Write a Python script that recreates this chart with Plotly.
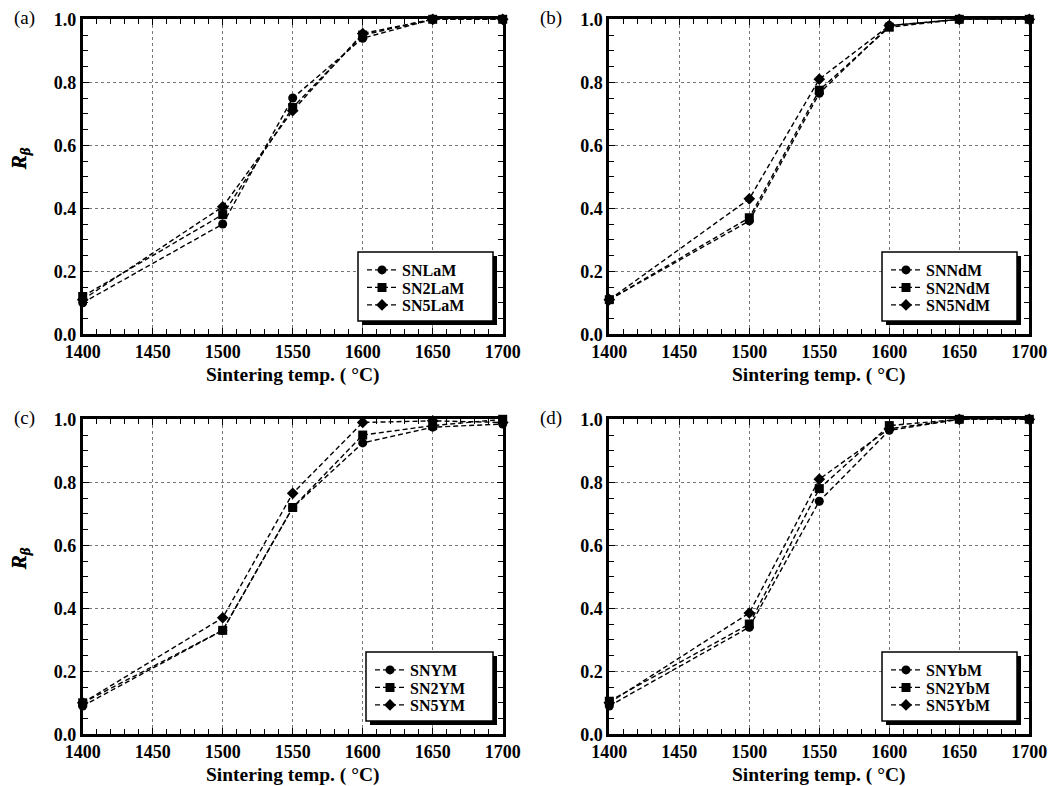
import plotly.graph_objects as go

# Sintering temperatures (°C)
temps = [1400, 1500, 1550, 1600, 1650, 1700]

# Panel (a): La-doped
SNLaM = [0.10, 0.35, 0.75, 0.94, 1.0, 1.0]
SN2LaM = [0.12, 0.38, 0.72, 0.95, 1.0, 1.0]
SN5LaM = [0.11, 0.405, 0.71, 0.955, 1.0, 1.0]

# Panel (b): Nd-doped
SNNdM = [0.11, 0.36, 0.765, 0.98, 1.0, 1.0]
SN2NdM = [0.11, 0.37, 0.775, 0.975, 1.0, 1.0]
SN5NdM = [0.11, 0.43, 0.81, 0.98, 1.0, 1.0]

# Panel (c): Y-doped
SNYM = [0.09, 0.33, 0.72, 0.925, 0.975, 0.985]
SN2YM = [0.10, 0.33, 0.72, 0.95, 0.98, 1.0]
SN5YM = [0.10, 0.37, 0.765, 0.99, 0.995, 0.99]

# Panel (d): Yb-doped
SNYbM = [0.09, 0.34, 0.74, 0.965, 1.0, 1.0]
SN2YbM = [0.105, 0.35, 0.78, 0.98, 1.0, 1.0]
SN5YbM = [0.10, 0.385, 0.81, 0.97, 1.0, 1.0]

panels = [
    ("(a)", [("SNLaM", SNLaM), ("SN2LaM", SN2LaM), ("SN5LaM", SN5LaM)]),
    ("(b)", [("SNNdM", SNNdM), ("SN2NdM", SN2NdM), ("SN5NdM", SN5NdM)]),
    ("(c)", [("SNYM", SNYM), ("SN2YM", SN2YM), ("SN5YM", SN5YM)]),
    ("(d)", [("SNYbM", SNYbM), ("SN2YbM", SN2YbM), ("SN5YbM", SN5YbM)]),
]

W, H = 1048, 786
symbols = ["circle", "square", "diamond"]

# plot-area boxes in pixels: (left, right, top, bottom)
boxes = [
    (82.7, 502.7, 19.3, 334.3),
    (609.3, 1029.3, 19.3, 334.3),
    (82.7, 502.7, 419.3, 734.3),
    (609.3, 1029.3, 419.3, 734.3),
]
# legend frames in pixels: (left, top, right, bottom)
leg_boxes = [
    (358, 252, 493, 321),
    (882, 252, 1017, 321),
    (366, 652, 493, 721),
    (882, 652, 1017, 721),
]
row_offsets = [18, 35.5, 53]

def px_x(v):
    return v / W

def px_y(v):
    return 1 - v / H

serif = "Liberation Serif"
fig = go.Figure()
layout = dict(
    width=W, height=H,
    margin=dict(l=0, r=0, t=0, b=0, autoexpand=False),
    paper_bgcolor="white", plot_bgcolor="white",
    showlegend=True,
)
shapes = []
annotations = []
leg_count = 0

for i, (label, series) in enumerate(panels):
    n = "" if i == 0 else str(i + 1)
    xa, ya = "x" + n, "y" + n
    ll, lt, lr, lb = leg_boxes[i]
    for k, ((name, vals), sym) in enumerate(zip(series, symbols)):
        leg_count += 1
        leg = "legend" if leg_count == 1 else "legend" + str(leg_count)
        fig.add_trace(go.Scatter(
            x=temps, y=vals, name=name, mode="lines+markers",
            xaxis=xa, yaxis=ya, legend=leg, cliponaxis=False,
            line=dict(color="black", width=1.4, dash="5px,3px"),
            marker=dict(symbol=sym, size=9, color="black"),
        ))
        # one legend row per series, stacked inside the framed box
        layout[leg] = dict(
            x=px_x(ll + 4), y=px_y(lt + row_offsets[k]),
            xanchor="left", yanchor="middle",
            bgcolor="rgba(0,0,0,0)", borderwidth=0,
            font=dict(family=serif, size=16, color="black", weight="bold"),
            itemwidth=30,
        )
    l, r, t, b = boxes[i]
    axis_common = dict(
        showline=True, linecolor="black", linewidth=2.8, mirror="allticks",
        ticks="inside", ticklen=6, tickwidth=1.2, tickcolor="black",
        showgrid=True, gridcolor="#777", griddash="dot", gridwidth=1,
        zeroline=False, automargin=False, ticklabeloverflow="allow",
        tickfont=dict(family=serif, size=18, color="black", weight="bold"),
    )
    layout["xaxis" + n] = dict(
        axis_common, domain=[px_x(l), px_x(r)], anchor=ya,
        range=[1400, 1700], dtick=50, tick0=1400, ticklabelstandoff=-1,
        minor=dict(dtick=10, ticklen=5, ticks="inside", tickcolor="black", showgrid=False),
    )
    layout["yaxis" + n] = dict(
        axis_common, domain=[px_y(b), px_y(t)], anchor=xa,
        range=[0, 1], dtick=0.2, tick0=0, tickformat=".1f",
        minor=dict(dtick=0.05, ticklen=5, ticks="inside", tickcolor="black", showgrid=False),
    )
    # legend frame with a drop shadow
    shapes.append(dict(
        type="rect", xref="paper", yref="paper", layer="above",
        x0=px_x(ll + 4), x1=px_x(lr + 4), y0=px_y(lb + 4), y1=px_y(lt + 4),
        fillcolor="black", line=dict(width=0),
    ))
    shapes.append(dict(
        type="rect", xref="paper", yref="paper", layer="above",
        x0=px_x(ll), x1=px_x(lr), y0=px_y(lb), y1=px_y(lt),
        fillcolor="white", line=dict(color="black", width=1.5),
    ))
    # x-axis title
    annotations.append(dict(
        text="Sintering temp. ( °C)", xref="paper", yref="paper",
        showarrow=False, x=px_x((l + r) / 2), y=px_y(b + 40.8),
        xanchor="center", yanchor="middle", borderpad=0,
        font=dict(family=serif, size=19.5, color="black", weight="bold"),
    ))
    # y-axis title
    annotations.append(dict(
        text="<i>R<sub>β</sub></i>", xref="paper", yref="paper", showarrow=False,
        x=px_x(20), y=px_y(t + 140), xanchor="center", yanchor="middle",
        textangle=-90,
        font=dict(family=serif, size=21, color="black", weight="bold"),
    ))
    # panel label
    annotations.append(dict(
        text=label, xref="paper", yref="paper", showarrow=False,
        x=px_x(l - 71), y=px_y(t - 1), xanchor="left", yanchor="middle",
        font=dict(family=serif, size=19, color="black"),
    ))

layout["shapes"] = shapes
layout["annotations"] = annotations
fig.update_layout(**layout)
fig.write_html("out.html")
